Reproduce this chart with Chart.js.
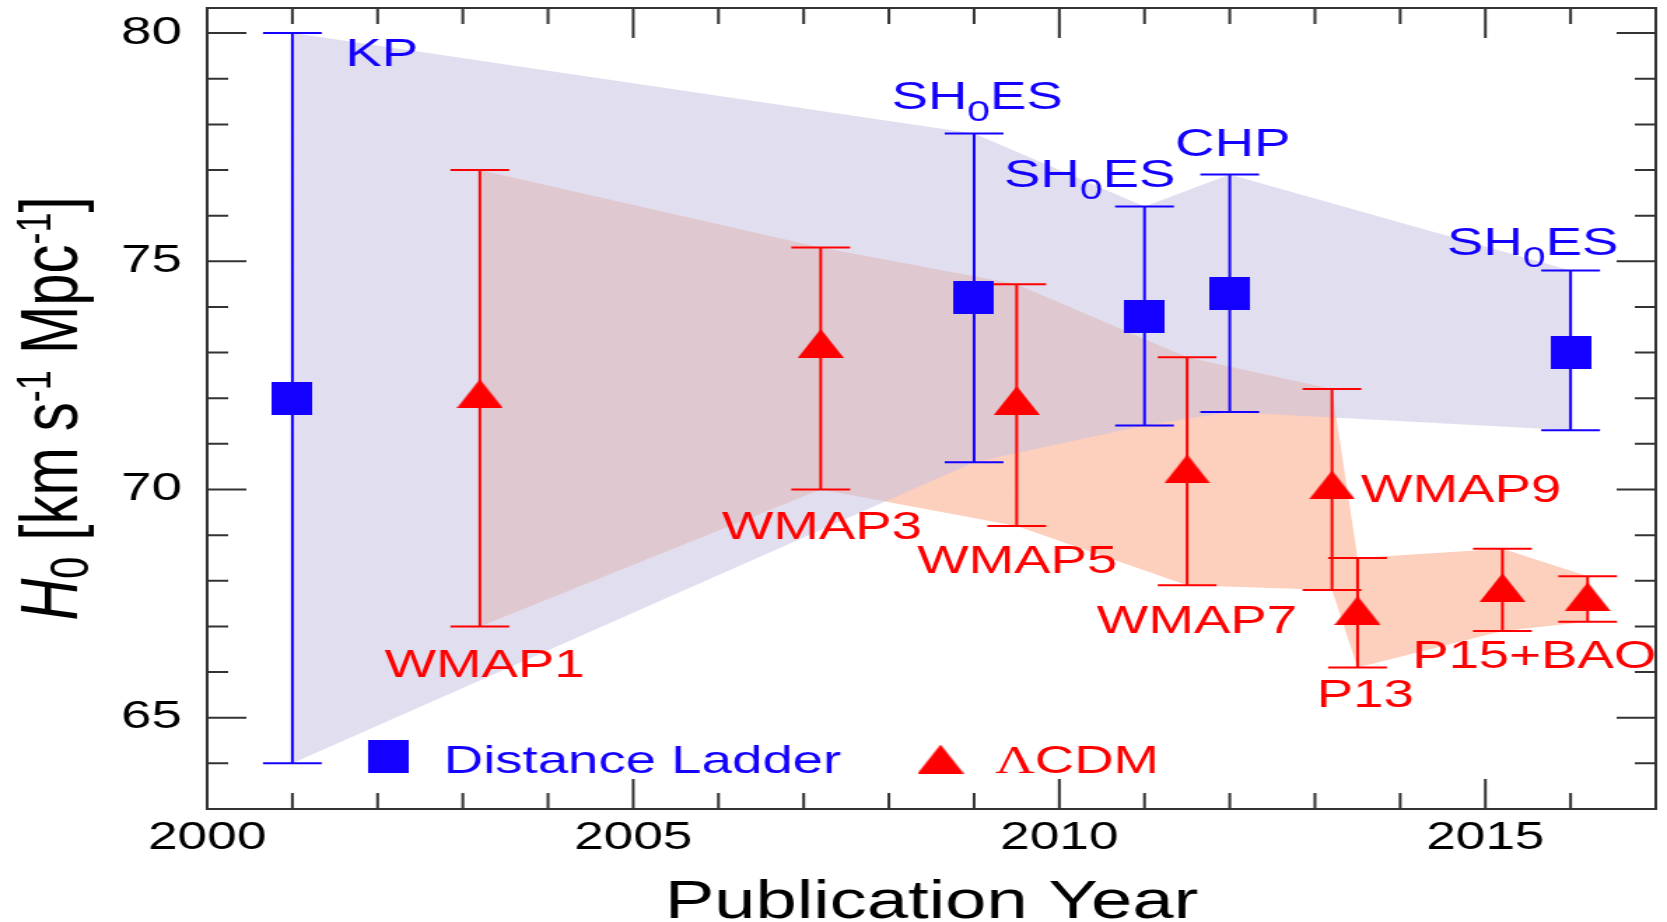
<!DOCTYPE html>
<html>
<head>
<meta charset="utf-8">
<script src="https://cdn.jsdelivr.net/npm/chart.js@4.4.1/dist/chart.umd.min.js"></script>
<style>
  html, body { margin: 0; padding: 0; background: #fff; overflow: hidden; }
</style>
</head>
<body>
<!-- drawn at 1191 wide and stretched to 1667, like the original figure -->
<canvas id="chart" width="1191" height="922" style="display:block;width:1667px;height:922px"></canvas>
<script>
// distance ladder
const ladderNames = ["KP", "SH0ES", "SH0ES", "CHP", "SH0ES"];
const ladderYear = [2001, 2009, 2011, 2012, 2016];
const ladderH0 = [72.0, 74.2, 73.8, 74.3, 73.0];
const ladderHigh = [80.0, 77.8, 76.2, 76.9, 74.8];
const ladderLow = [64.0, 70.6, 71.4, 71.7, 71.3];

// LCDM from the CMB
const cmbNames = ["WMAP1", "WMAP3", "WMAP5", "WMAP7", "WMAP9", "P13", "P15+BAO", ""];
const cmbYear = [2003.2, 2007.2, 2009.5, 2011.5, 2013.2, 2013.5, 2015.2, 2016.2];
const cmbH0 = [72.1, 73.2, 71.95, 70.45, 70.1, 67.35, 67.85, 67.65];
const cmbHigh = [77.0, 75.3, 74.5, 72.9, 72.2, 68.5, 68.7, 68.1];
const cmbLow = [67.0, 70.0, 69.2, 67.9, 67.8, 66.1, 66.9, 67.1];

const xTicks = [2000, 2005, 2010, 2015];
const yTicks = [65, 70, 75, 80];

// where the names sit (left edge, baseline), in data units
const ladderLabelAt = [[2001.62, 79.28], [2008.03, 78.33], [2009.35, 76.62], [2011.36, 77.3], [2014.55, 75.14]];
const cmbLabelAt = [[2002.08, 65.89], [2006.04, 68.92], [2008.33, 68.17], [2010.44, 66.86], [2013.54, 69.73], [2013.02, 65.24], [2014.14, 66.09], null];

const BLUE = "rgb(20,0,255)";
const RED = "rgb(255,0,0)";
const FONT = "'Liberation Sans', Arial, Helvetica, sans-serif";

// markers
function marker(w, h, color, tri) {
  const c = document.createElement("canvas");
  c.width = w; c.height = h;
  const g = c.getContext("2d");
  g.fillStyle = color;
  if (tri) {
    g.beginPath();
    g.moveTo(w / 2, 0);
    g.lineTo(w, h);
    g.lineTo(0, h);
    g.closePath();
    g.fill();
  } else {
    g.fillRect(0, 0, w, h);
  }
  return c;
}
const square = marker(29, 33, BLUE, false);
const triangle = marker(33, 29, RED, true);

const pts = (xs, ys) => xs.map((x, i) => ({ x, y: ys[i] }));
const band = (xs, hi, lo) => pts(xs, hi).concat(pts(xs, lo).reverse());
const bars = (xs, hi, lo) => xs.flatMap((x, i) => [{ x, y: lo[i] }, { x, y: hi[i] }, { x, y: null }]);
const caps = (xs, hi, lo) => xs.flatMap((x, i) => [{ x, y: hi[i] }, { x, y: lo[i] }]);

// text with sub/superscripts
function parts(name) {
  const i = name.indexOf("H0");
  if (i < 0) return [{ t: name }];
  return [{ t: name.slice(0, i + 1) }, { t: "0", sub: true }, { t: name.slice(i + 2) }];
}
function drawRich(ctx, list, x, y, size, measureOnly) {
  let w = 0;
  list.forEach(p => {
    const s = p.sub || p.sup ? size * (p.scale || 0.75) : size;
    ctx.font = (p.italic ? "italic " : "") + s + "px " + (p.family || FONT);
    const dy = p.sub ? size * (p.shift || 0.3) : p.sup ? -size * (p.shift || 0.38) : 0;
    if (!measureOnly) ctx.fillText(p.t, x + w, y + dy);
    w += ctx.measureText(p.t).width;
  });
  return w;
}

// frame + inward ticks on all four sides
const frame = {
  id: "frame",
  afterDatasetsDraw(chart) {
    const { ctx, chartArea: a, scales: { x, y } } = chart;
    ctx.save();
    ctx.strokeStyle = "#333";
    ctx.lineWidth = 2;
    ctx.beginPath();
    x.ticks.forEach(t => {
      if (!Number.isInteger(t.value) || t.value <= x.min || t.value >= x.max) return;
      const px = x.getPixelForValue(t.value);
      const len = t.value % 5 === 0 ? 30 : 16;
      ctx.moveTo(px, a.bottom); ctx.lineTo(px, a.bottom - len);
      ctx.moveTo(px, a.top); ctx.lineTo(px, a.top + len);
    });
    y.ticks.forEach(t => {
      if (!Number.isInteger(t.value) || t.value <= y.min || t.value >= y.max) return;
      const py = y.getPixelForValue(t.value);
      const len = t.value % 5 === 0 ? 28 : 15;
      ctx.moveTo(a.left, py); ctx.lineTo(a.left + len, py);
      ctx.moveTo(a.right, py); ctx.lineTo(a.right - len, py);
    });
    ctx.stroke();
    ctx.strokeRect(a.left, a.top, a.right - a.left, a.bottom - a.top);
    ctx.restore();
  }
};

// point names, legend and the y title
const notes = {
  id: "notes",
  afterDraw(chart) {
    const { ctx, chartArea: a, scales: { x, y } } = chart;
    ctx.save();
    ctx.textAlign = "left";
    ctx.textBaseline = "alphabetic";

    ctx.fillStyle = BLUE;
    ladderNames.forEach((n, i) => {
      const p = ladderLabelAt[i];
      drawRich(ctx, parts(n), x.getPixelForValue(p[0]), y.getPixelForValue(p[1]), 39);
    });
    ctx.fillStyle = RED;
    cmbNames.forEach((n, i) => {
      const p = cmbLabelAt[i];
      if (!p || !n) return;
      drawRich(ctx, parts(n), x.getPixelForValue(p[0]), y.getPixelForValue(p[1]), 39);
    });

    // legend
    ctx.drawImage(square, a.left + 129 - square.width / 2, a.bottom - 53 - square.height / 2);
    ctx.fillStyle = BLUE;
    drawRich(ctx, [{ t: "Distance Ladder" }], a.left + 169, a.bottom - 36, 39);
    ctx.drawImage(triangle, a.left + 524 - triangle.width / 2, a.bottom - 50 - triangle.height / 2);
    ctx.fillStyle = RED;
    drawRich(ctx, [{ t: "\u039B", family: "'Liberation Serif', 'Times New Roman', serif" }, { t: "CDM" }], a.left + 563, a.bottom - 36, 39);

    // y title
    const title = [
      { t: "H", italic: true }, { t: "0", sub: true, scale: 0.68, shift: 0.14 },
      { t: " [km s" }, { t: "-1", sup: true, scale: 0.62, shift: 0.32 },
      { t: " Mpc" }, { t: "-1", sup: true, scale: 0.62, shift: 0.32 }, { t: "]" }
    ];
    const size = 58;
    const w = drawRich(ctx, title, 0, 0, size, true);
    ctx.fillStyle = "#000";
    ctx.translate(55, (a.top + a.bottom) / 2);
    ctx.rotate(-Math.PI / 2);
    drawRich(ctx, title, -w / 2, 0, size);
    ctx.restore();
  }
};

const noPad = s => { s.paddingTop = 0; s.paddingBottom = 0; s.paddingLeft = 0; s.paddingRight = 0; };

const ctx = document.getElementById("chart");

new Chart(ctx, {
  type: "line",
  data: {
    datasets: [
      {
        label: "Distance Ladder",
        data: pts(ladderYear, ladderH0),
        showLine: false,
        pointStyle: square,
        pointRadius: 10,
        order: 0
      },
      {
        label: "\u039BCDM",
        data: pts(cmbYear, cmbH0),
        showLine: false,
        pointStyle: triangle,
        pointRadius: 10,
        order: 0
      },
      {
        data: bars(ladderYear, ladderHigh, ladderLow),
        borderColor: BLUE,
        borderWidth: 2,
        pointRadius: 0,
        spanGaps: false,
        order: 1
      },
      {
        data: caps(ladderYear, ladderHigh, ladderLow),
        showLine: false,
        pointStyle: "line",
        pointRadius: 21,
        pointBorderWidth: 2,
        pointBorderColor: BLUE,
        order: 1
      },
      {
        data: bars(cmbYear, cmbHigh, cmbLow),
        borderColor: RED,
        borderWidth: 2,
        pointRadius: 0,
        spanGaps: false,
        order: 1
      },
      {
        data: caps(cmbYear, cmbHigh, cmbLow),
        showLine: false,
        pointStyle: "line",
        pointRadius: 21,
        pointBorderWidth: 2,
        pointBorderColor: RED,
        order: 1
      },
      {
        // ladder range, laid over the CMB range
        data: band(ladderYear, ladderHigh, ladderLow),
        fill: "shape",
        backgroundColor: "rgba(198,194,225,0.53)",
        borderColor: "transparent",
        borderWidth: 0,
        pointRadius: 0,
        order: 2
      },
      {
        data: band(cmbYear, cmbHigh, cmbLow),
        fill: "shape",
        backgroundColor: "rgb(253,207,189)",
        borderColor: "transparent",
        borderWidth: 0,
        pointRadius: 0,
        order: 3
      }
    ]
  },
  options: {
    responsive: false,
    devicePixelRatio: 1,
    animation: false,
    events: [],
    layout: { autoPadding: false, padding: { top: 8, right: 8, left: 0, bottom: 0 } },
    plugins: {
      legend: { display: false },
      tooltip: { enabled: false }
    },
    scales: {
      x: {
        type: "linear",
        min: 2000,
        max: 2017,
        grid: { display: false, drawTicks: false },
        border: { display: false },
        ticks: {
          stepSize: 1,
          maxTicksLimit: 100,
          includeBounds: false,
          autoSkip: false,
          maxRotation: 0,
          padding: 7,
          color: "#000",
          font: { family: FONT, size: 38 },
          callback: v => (xTicks.includes(v) ? String(v) : "")
        },
        title: {
          display: true,
          text: "Publication Year",
          color: "#000",
          font: { family: FONT, size: 53, lineHeight: 0.72 },
          padding: 0
        },
        afterFit: s => { noPad(s); s.height = 113; }
      },
      y: {
        type: "linear",
        min: 63,
        max: 80.55,
        grid: { display: false, drawTicks: false },
        border: { display: false },
        ticks: {
          stepSize: 1,
          maxTicksLimit: 100,
          includeBounds: false,
          autoSkip: false,
          padding: 18,
          color: "#000",
          font: { family: FONT, size: 39 },
          callback: v => (yTicks.includes(v) ? String(v) : "")
        },
        afterFit: s => { noPad(s); s.width = 148; }
      }
    }
  },
  plugins: [frame, notes]
});
</script>
</body>
</html>
